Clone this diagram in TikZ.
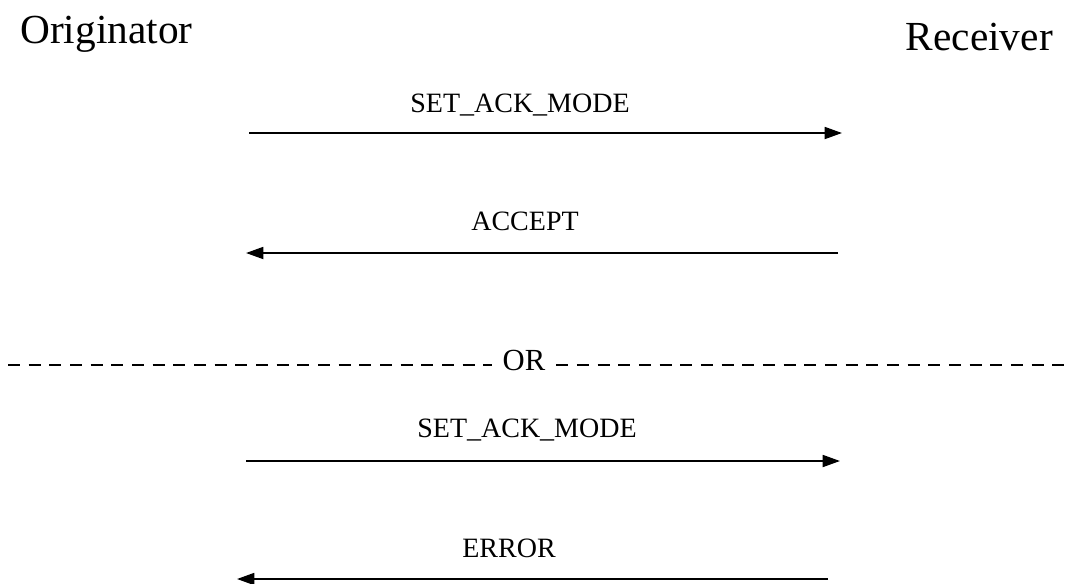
\documentclass[tikz,border=0pt]{standalone}
\usepackage{fontspec}
\setmainfont{Liberation Serif}
\usetikzlibrary{arrows.meta}
\begin{document}
\begin{tikzpicture}[x=0.75pt,y=-0.75pt,
  party/.style={font=\fontsize{31}{36}\selectfont,inner sep=0pt},
  lbl/.style={font=\fontsize{21}{25}\selectfont,inner sep=0pt,anchor=base},
  msg/.style={line width=1.3pt,-{Triangle[length=13pt,width=9pt]}},
  sep/.style={line width=0.8pt,dash pattern=on 9pt off 6.5pt}]
\useasboundingbox (0,0) rectangle (1072,583);

\node[party,anchor=base west] at (20,43) (orig) {Originator};
\node[party,anchor=base east] at (1053,50) (recv) {Receiver};

%%%%%%%%%%%%%%%%%%%%%%%%%%%%%%%%%%%%%%
\coordinate (o1) at (249,133);
\coordinate (r1) at (842,133);
\node[lbl] at (520,112) (setA) {SET\_ACK\_MODE};
\draw[msg] (o1) -- (r1);

\coordinate (r2) at (838,253);
\coordinate (o2) at (246,253);
\node[lbl] at (525,230) (acc) {ACCEPT};
\draw[msg] (r2) -- (o2);

%%%%%%%%%%%%%%%%%%%%%%%%%%%%%%%%%%%%%%
\node[lbl,font=\fontsize{23}{27}\selectfont] at (524,370) (or) {OR};
\coordinate (sepL) at (8,365);
\coordinate (sepR) at (1070,365);
\draw[sep] (sepL) -- ([xshift=-8pt]or.west |- sepL);
\draw[sep] ([xshift=8pt]or.east |- sepR) -- (sepR);

%%%%%%%%%%%%%%%%%%%%%%%%%%%%%%%%%%%%%%
\coordinate (o3) at (246,461);
\coordinate (r3) at (840,461);
\node[lbl] at (527,437) (setB) {SET\_ACK\_MODE};
\draw[msg] (o3) -- (r3);

\coordinate (r4) at (828,579);
\coordinate (o4) at (237,579);
\node[lbl] at (509,557) (err) {ERROR};
\draw[msg] (r4) -- (o4);

\end{tikzpicture}
\end{document}
